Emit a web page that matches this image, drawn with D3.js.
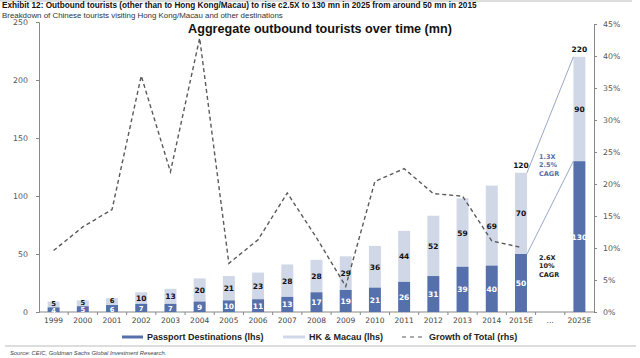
<!DOCTYPE html>
<html><head><meta charset="utf-8">
<script src="https://cdn.jsdelivr.net/npm/d3@7"></script>
<style>body{margin:0;background:#fff}svg{display:block;font-family:"Liberation Sans",Arial,sans-serif}</style>
</head><body><svg id="c" width="640" height="358"></svg>
<script>
const categories = ["1999","2000","2001","2002","2003","2004","2005","2006","2007","2008","2009","2010","2011","2012","2013","2014","2015E","...","2025E"];
const passport = [4,5,6,7,7,9,10,11,13,17,19,21,26,31,39,40,50,null,130];
const hkMacau = [5,5,6,10,13,20,21,23,28,28,29,36,44,52,59,69,70,null,90];
const growth = [9.6,13.3,16.0,36.9,21.9,42.8,7.6,11.3,18.6,11.6,4.0,20.4,22.4,18.5,18.1,11.1,10.1,null,null];
const totalLabels = {"2015E":120,"2025E":220};
const leftTicks = [0,50,100,150,200,250];
const rightTicks = [0,5,10,15,20,25,30,35,40,45];

const svg = d3.select("#c");
const dark = "#5570aa", light = "#d0d8e8", lineCol = "#5a5a5a";
const x = d3.scaleBand().domain(categories).range([39,594]).paddingInner(0.59).paddingOuter(0.295);
const yL = d3.scaleLinear().domain([0,250]).range([312,22]);
const yR = d3.scaleLinear().domain([0,45]).range([312,24]);

// header
svg.append("line").attr("x1",0).attr("x2",632).attr("y1",1).attr("y2",1).attr("stroke","#bbb").attr("stroke-width",1);
svg.append("text").attr("x",2).attr("y",8).attr("font-size",8.2).attr("font-weight","bold").attr("fill","#111")
  .text("Exhibit 12: Outbound tourists (other than to Hong Kong/Macau) to rise c2.5X to 130 mn in 2025 from around 50 mn in 2015");
svg.append("text").attr("x",2).attr("y",17.5).attr("font-size",7.9).attr("fill","#333")
  .text("Breakdown of Chinese tourists visiting Hong Kong/Macau and other destinations");
svg.append("text").attr("x",320).attr("y",33).attr("text-anchor","middle").attr("font-size",12.6).attr("font-weight","bold").attr("fill","#111")
  .text("Aggregate outbound tourists over time (mn)");

// axes
const axL = svg.append("g").attr("transform","translate(39,0)").call(d3.axisLeft(yL).tickValues(leftTicks).tickSize(3).tickPadding(8));
const axR = svg.append("g").attr("transform","translate(594,0)").call(d3.axisRight(yR).tickValues(rightTicks).tickFormat(d=>d+"%").tickSize(3).tickPadding(6));
[axL,axR].forEach(a=>{a.select(".domain").attr("stroke","#888");a.selectAll(".tick line").attr("stroke","#888");
  a.selectAll("text").attr("fill","#555").attr("font-family","DejaVu Sans, sans-serif").attr("font-size",7.8);});
const axB = svg.append("g").attr("transform","translate(0,312)").call(d3.axisBottom(x).tickSize(0).tickPadding(6));
axB.select(".domain").attr("stroke","#888").attr("d","M39,0H594");
axB.selectAll("text").attr("font-size",7.5).attr("fill","#444").attr("font-family","DejaVu Sans, sans-serif");
// minor ticks between categories
svg.append("g").selectAll("line").data(categories.slice(1)).join("line")
  .attr("x1",d=>x(d)-x.step()*x.paddingInner()/2).attr("x2",d=>x(d)-x.step()*x.paddingInner()/2)
  .attr("y1",312).attr("y2",315).attr("stroke","#888");

// bars
const idx = categories.map((c,i)=>i).filter(i=>passport[i]!=null);
svg.append("g").selectAll("rect").data(idx).join("rect")
  .attr("x",i=>x(categories[i])).attr("width",x.bandwidth())
  .attr("y",i=>yL(passport[i]+hkMacau[i])).attr("height",i=>yL(passport[i])-yL(passport[i]+hkMacau[i])).attr("fill",light);
svg.append("g").selectAll("rect").data(idx).join("rect")
  .attr("x",i=>x(categories[i])).attr("width",x.bandwidth())
  .attr("y",i=>yL(passport[i])).attr("height",i=>yL(0)-yL(passport[i])).attr("fill",dark);

// growth line
const lineData = categories.map((c,i)=>({c,v:growth[i]})).filter(d=>d.v!=null);
svg.append("path").datum(lineData).attr("fill","none").attr("stroke",lineCol).attr("stroke-width",1.4).attr("stroke-dasharray","4,3")
  .attr("d",d3.line().x(d=>x(d.c)+x.bandwidth()/2).y(d=>yR(d.v)));

// value labels
const lab = svg.append("g").attr("font-family","DejaVu Sans, sans-serif").attr("font-weight","bold").attr("text-anchor","middle");
lab.selectAll(".hk").data(idx).join("text")
  .attr("font-size",i=>hkMacau[i]<8?6.8:7.5)
  .attr("x",i=>x(categories[i])+x.bandwidth()/2).attr("y",i=>(yL(passport[i])+yL(passport[i]+hkMacau[i]))/2+(hkMacau[i]<8?1.5:3))
  .attr("fill","#111").text(i=>hkMacau[i]);
lab.selectAll(".pp").data(idx).join("text")
  .attr("font-size",i=>passport[i]<8?6.8:7.5)
  .attr("x",i=>x(categories[i])+x.bandwidth()/2).attr("y",i=>(yL(0)+yL(passport[i]))/2+(passport[i]<8?3.2:3))
  .attr("fill","#fff").text(i=>passport[i]);
lab.selectAll(".tot").data(Object.keys(totalLabels)).join("text").attr("font-size",7.5)
  .attr("x",c=>x(c)+x.bandwidth()/2).attr("y",c=>yL(totalLabels[c])-5).attr("fill","#111").text(c=>totalLabels[c]);

// CAGR annotation lines
const a = categories.indexOf("2015E"), b = categories.indexOf("2025E");
const annCol = "#7f8fc0";
svg.append("line").attr("x1",x("2015E")+x.bandwidth()).attr("y1",yL(passport[a]+hkMacau[a]))
  .attr("x2",x("2025E")).attr("y2",yL(passport[b]+hkMacau[b])).attr("stroke",annCol).attr("stroke-width",0.8);
svg.append("line").attr("x1",x("2015E")+x.bandwidth()).attr("y1",yL(passport[a]))
  .attr("x2",x("2025E")).attr("y2",yL(passport[b])).attr("stroke",annCol).attr("stroke-width",0.8);
const ann = svg.append("g").attr("font-family","DejaVu Sans, sans-serif").attr("font-weight","bold").attr("font-size",6.5);
["1.3X","2.5%","CAGR"].forEach((t,k)=>ann.append("text").attr("x",539).attr("y",159+k*8.3).attr("fill","#5a6ea8").text(t));
["2.6X","10%","CAGR"].forEach((t,k)=>ann.append("text").attr("x",539).attr("y",260+k*8.3).attr("fill","#222").text(t));

// legend
const lg = svg.append("g").attr("font-size",9).attr("font-weight","bold").attr("fill","#222");
lg.append("line").attr("x1",122).attr("x2",143).attr("y1",337).attr("y2",337).attr("stroke",dark).attr("stroke-width",3);
lg.append("text").attr("x",147).attr("y",340).text("Passport Destinations (lhs)");
lg.append("line").attr("x1",283).attr("x2",305).attr("y1",337).attr("y2",337).attr("stroke",light).attr("stroke-width",3);
lg.append("text").attr("x",309).attr("y",340).text("HK & Macau (lhs)");
lg.append("line").attr("x1",402).attr("x2",425).attr("y1",337).attr("y2",337).attr("stroke",lineCol).attr("stroke-width",1.2).attr("stroke-dasharray","4,4");
lg.append("text").attr("x",429).attr("y",340).text("Growth of Total (rhs)");

// footer
svg.append("line").attr("x1",5).attr("x2",636).attr("y1",346).attr("y2",346).attr("stroke","#bbb");
svg.append("text").attr("x",10).attr("y",355).attr("font-size",5.8).attr("font-style","italic").attr("fill","#444")
  .text("Source: CEIC, Goldman Sachs Global Investment Research.");
</script></body></html>
